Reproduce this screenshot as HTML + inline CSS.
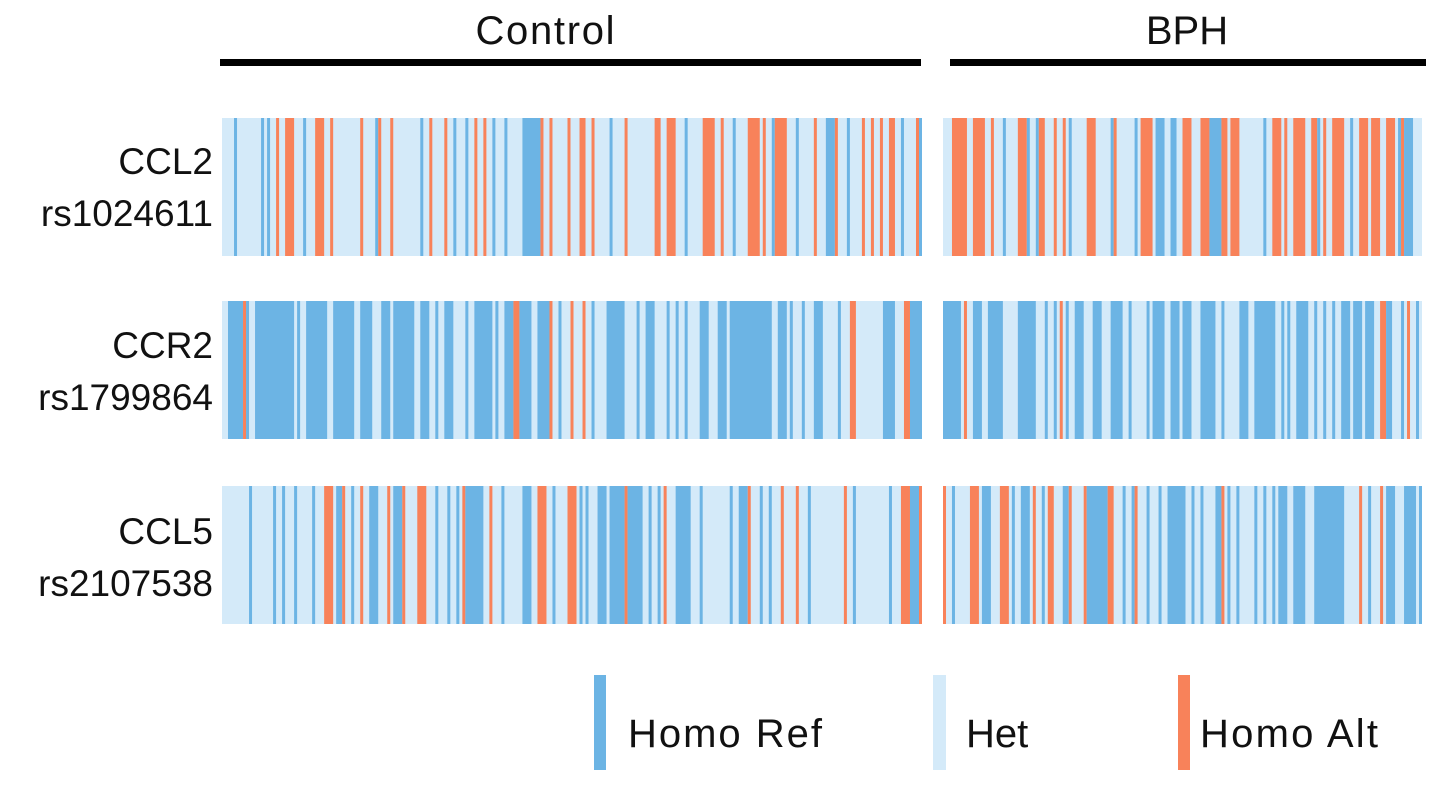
<!DOCTYPE html>
<html><head><meta charset="utf-8"><style>
body{margin:0;background:#fff;width:1441px;height:784px;overflow:hidden;font-family:"Liberation Sans",sans-serif}
</style></head><body>
<svg width="1441" height="784" xmlns="http://www.w3.org/2000/svg" id="chart">
<g font-family="Liberation Sans, sans-serif" font-size="37" fill="#111">
<text x="545" y="44" text-anchor="middle" font-size="40" textLength="139">Control</text>
<text x="1187" y="44" text-anchor="middle" font-size="40">BPH</text>
<text x="213" y="174" text-anchor="end">CCL2</text>
<text x="213" y="226" text-anchor="end">rs1024611</text>
<text x="213" y="358" text-anchor="end">CCR2</text>
<text x="213" y="410" text-anchor="end">rs1799864</text>
<text x="213" y="544" text-anchor="end">CCL5</text>
<text x="213" y="596" text-anchor="end">rs2107538</text>
</g>
<rect x="220" y="59" width="701" height="7" fill="#000"/>
<rect x="950" y="59" width="476" height="7" fill="#000"/>
<g id="cells"></g>
<g font-family="Liberation Sans, sans-serif" font-size="40" fill="#111">
<rect x="594" y="675" width="12" height="95" fill="#6cb4e4"/>
<text x="628" y="747" textLength="194">Homo Ref</text>
<rect x="933" y="675" width="13" height="95" fill="#d4eaf9"/>
<text x="966" y="747">Het</text>
<rect x="1178" y="675" width="12" height="95" fill="#f8825a"/>
<text x="1200" y="747" textLength="178">Homo Alt</text>
</g>
</svg>
<script>
// Categories
const snps = ["CCL2 rs1024611", "CCR2 rs1799864", "CCL5 rs2107538"];
const groups = ["Control", "BPH"];
const groupSizes = [233, 160];
const genotypes = ["H", "R", "A"]; // Het (default), Homo Ref, Homo Alt
// Runs: [sampleIndex, count, genotype]; other samples are Het
const ccl2Control = [[4,1,"R"],[13,1,"R"],[15,1,"R"],[18,1,"A"],[21,3,"A"],[27,1,"R"],[31,3,"A"],[36,1,"A"],[46,1,"A"],[51,1,"R"],[52,1,"A"],[56,1,"A"],[66,1,"R"],[69,1,"A"],[74,1,"A"],[77,1,"R"],[81,1,"R"],[84,1,"A"],[87,1,"A"],[90,1,"R"],[94,1,"R"],[100,6,"R"],[106,1,"A"],[109,1,"A"],[115,1,"A"],[119,2,"A"],[123,1,"A"],[129,1,"R"],[134,1,"A"],[144,2,"A"],[148,3,"A"],[154,1,"R"],[160,4,"A"],[166,1,"A"],[170,1,"R"],[175,4,"A"],[180,1,"A"],[183,1,"R"],[184,4,"A"],[191,1,"R"],[197,1,"A"],[201,3,"R"],[204,1,"A"],[208,1,"R"],[213,1,"A"],[216,1,"A"],[219,1,"A"],[222,2,"A"],[226,1,"R"],[231,1,"A"],[232,1,"R"]];
const ccl2BPH = [[3,5,"A"],[10,4,"A"],[16,1,"A"],[20,1,"R"],[25,3,"A"],[28,1,"R"],[31,1,"R"],[32,2,"A"],[37,1,"A"],[40,1,"A"],[42,1,"R"],[48,3,"A"],[56,1,"R"],[57,1,"A"],[64,1,"R"],[66,4,"A"],[71,3,"R"],[76,2,"R"],[80,3,"A"],[86,3,"A"],[89,4,"R"],[93,2,"A"],[96,3,"A"],[107,1,"R"],[110,3,"A"],[114,1,"A"],[117,4,"A"],[123,2,"A"],[125,1,"R"],[127,1,"A"],[130,4,"A"],[136,1,"R"],[139,3,"A"],[143,3,"A"],[148,3,"A"],[152,1,"R"],[153,1,"A"],[154,3,"R"]];
const ccr2Control = [[2,5,"R"],[7,1,"A"],[8,1,"R"],[11,13,"R"],[25,1,"R"],[28,7,"R"],[37,7,"R"],[46,4,"R"],[53,3,"R"],[57,7,"R"],[66,3,"R"],[71,1,"R"],[74,3,"R"],[81,1,"R"],[84,6,"R"],[91,1,"R"],[94,3,"R"],[97,2,"A"],[99,4,"R"],[105,4,"R"],[109,1,"A"],[112,1,"R"],[116,1,"A"],[120,1,"A"],[123,1,"R"],[128,6,"R"],[138,1,"R"],[141,3,"R"],[148,1,"R"],[151,1,"R"],[154,1,"R"],[159,3,"R"],[165,3,"R"],[169,14,"R"],[185,3,"R"],[189,1,"R"],[193,1,"R"],[197,3,"R"],[205,1,"R"],[209,2,"A"],[220,4,"R"],[227,2,"A"],[229,4,"R"]];
const ccr2BPH = [[0,6,"R"],[7,1,"A"],[10,3,"R"],[15,5,"R"],[25,6,"R"],[34,1,"R"],[37,1,"R"],[39,1,"A"],[41,1,"R"],[44,3,"R"],[50,3,"R"],[56,4,"R"],[62,1,"R"],[68,1,"R"],[70,4,"R"],[76,3,"R"],[80,3,"R"],[86,5,"R"],[93,1,"R"],[99,3,"R"],[104,7,"R"],[113,1,"R"],[115,1,"R"],[118,4,"R"],[124,1,"R"],[127,1,"R"],[130,1,"R"],[133,3,"R"],[137,3,"R"],[141,3,"R"],[146,2,"A"],[148,2,"R"],[153,1,"R"],[155,1,"A"],[158,1,"R"]];
const ccl5Control = [[9,1,"R"],[17,1,"R"],[20,1,"R"],[24,1,"R"],[30,1,"R"],[34,3,"A"],[38,2,"R"],[40,1,"A"],[43,1,"R"],[46,1,"A"],[49,3,"R"],[55,1,"A"],[57,3,"R"],[60,1,"A"],[65,3,"A"],[71,1,"R"],[75,1,"R"],[78,1,"R"],[80,1,"A"],[81,6,"R"],[89,1,"A"],[93,1,"R"],[100,3,"R"],[105,3,"A"],[110,1,"R"],[115,3,"A"],[119,1,"R"],[121,1,"R"],[125,3,"R"],[129,5,"R"],[134,1,"A"],[135,5,"R"],[142,1,"R"],[145,1,"R"],[147,1,"A"],[151,5,"R"],[159,1,"R"],[169,1,"R"],[172,3,"R"],[175,1,"A"],[179,1,"R"],[182,1,"R"],[186,1,"A"],[191,1,"A"],[195,1,"R"],[207,1,"A"],[210,1,"R"],[222,1,"R"],[226,3,"A"],[229,3,"R"],[232,1,"A"]];
const ccl5BPH = [[0,1,"A"],[3,1,"R"],[9,3,"A"],[13,3,"R"],[19,3,"A"],[23,1,"R"],[26,3,"R"],[30,1,"A"],[33,1,"R"],[35,2,"A"],[40,2,"R"],[42,1,"A"],[47,1,"A"],[48,7,"R"],[55,2,"A"],[60,1,"R"],[63,1,"R"],[64,1,"A"],[68,1,"R"],[72,1,"R"],[75,6,"R"],[83,1,"R"],[86,1,"R"],[91,2,"R"],[93,1,"A"],[95,1,"R"],[98,1,"R"],[104,1,"R"],[107,1,"R"],[110,1,"R"],[112,3,"R"],[117,4,"R"],[124,10,"R"],[139,1,"A"],[142,1,"R"],[146,1,"A"],[148,3,"R"],[154,4,"R"],[159,1,"R"]];
const rowRuns = [[ccl2Control, ccl2BPH],[ccr2Control, ccr2BPH],[ccl5Control, ccl5BPH]];

// Layout
const panelX = [222, 943];
const panelW = [700, 479];
const rowY = [118, 301, 486];
const rowH = 138;
const colors = {H:"#d4eaf9", R:"#6cb4e4", A:"#f8825a"};
const NS = "http://www.w3.org/2000/svg";
const g = document.getElementById("cells");
function xScale(p, i){ return panelX[p] + i * panelW[p] / groupSizes[p]; }
rowRuns.forEach(function(pair, r){
  pair.forEach(function(runs, p){
    const bg = document.createElementNS(NS, "rect");
    bg.setAttribute("x", panelX[p]); bg.setAttribute("y", rowY[r]);
    bg.setAttribute("width", panelW[p]); bg.setAttribute("height", rowH);
    bg.setAttribute("fill", colors.H);
    
    
    g.appendChild(bg);
    runs.forEach(function(run){
      const x0 = xScale(p, run[0]);
      const x1 = xScale(p, Math.min(run[0] + run[1], groupSizes[p]));
      const c = document.createElementNS(NS, "rect");
      c.setAttribute("x", x0); c.setAttribute("y", rowY[r]);
      c.setAttribute("width", Math.max(0, x1 - x0)); c.setAttribute("height", rowH);
      c.setAttribute("fill", colors[run[2]]);
      
      
      g.appendChild(c);
    });
  });
});
</script>
</body></html>
